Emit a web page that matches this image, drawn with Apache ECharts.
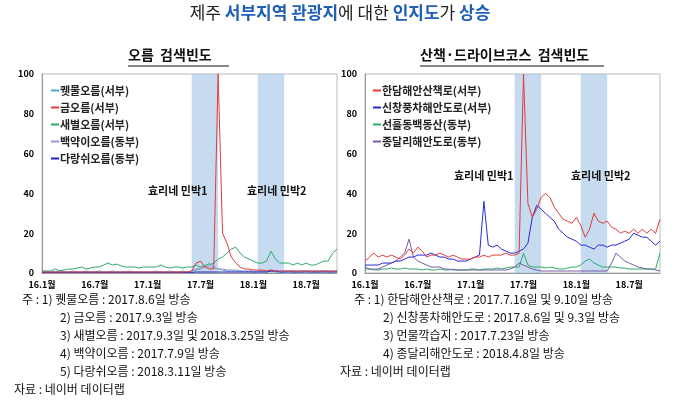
<!DOCTYPE html>
<html>
<head>
<meta charset="utf-8">
<script src="https://cdn.jsdelivr.net/npm/echarts@6/dist/echarts.min.js"></script>
<style>
html,body{margin:0;padding:0;background:#fff;}
#main{width:680px;height:406px;}
</style>
</head>
<body>
<div id="main"></div>
<script>
// 반월 단위 (16.1 ~ 18.10)
const months = [];
for (let y = 16; y <= 18; y++) {
  for (let m = 1; m <= 12; m++) {
    if (y === 18 && m > 10) break;
    months.push(y + '.' + m + '월', y + '.' + m + '월b');
  }
}

// 오름 검색빈도
const kwemul = [1,1,0.5,0.5,1,0.5,0.5,1,0.5,0.5,1,0.5,0.5,1,0.5,0.5,1,0.5,0.5,0.5,1,0.5,0.5,0.5,
  0.5,0.5,1,0.5,0.5,1,0.5,0.5,1,0.5,1,1.5,2,3,5,3,2,1.5,1,1,1,1,0.5,1,
  0.5,0.5,1,0.5,1,0.5,0.5,0.5,1,0.5,0.5,0.5,1,0.5,0.5,0.5,1,0.5,0.5,1];
const geum = [0.5,0.5,0.5,0.5,0.5,0.5,0.5,0.5,0.5,0.5,0.5,0.5,0.5,0.5,0.5,0.5,0.5,0.5,0.5,0.5,0.5,0.5,0.5,0.5,
  0.5,0.5,0.5,0.5,0.5,0.5,0.5,0.5,0.5,0.5,1,5,6,3,2,2,100,20,15,8,5,3,2,2,
  1.5,1.5,1.5,1,1.5,1,1,1,1,1,1,1,1,1,1,1,1,1,1,1];
const saebyeol = [1,1,1,2,1,1.5,2,2,2.5,3,2,2.5,3,3,4,5,4,4.5,3.5,3,3,3,2.5,3,
  3,3,3,4,3,2.5,3,3,2.5,3,3,4,3,4,4,5,7,8,10,12,13,10,8,7,
  6,5,5,6,11,7,5,5,5,4,5,4,5,4,4,5,6,6,10,12];
const baekyak = [0.5,0.5,0.5,0.5,0.5,0.5,0.5,0.5,0.5,0.5,0.5,0.5,0.5,0.5,0.5,0.5,0.5,0.5,0.5,0.5,0.5,0.5,0.5,0.5,
  0.5,0.5,0.5,0.5,0.5,0.5,0.5,0.5,0.5,0.5,1,2,2.5,3,3,2.5,2,2,1.5,1.5,1.5,1,1,1,
  1,1,1,1,1.5,1,1,1,1,1,1,1,1,1,1,1,1,1,1,1];
const darangswi = [0.3,0.3,0.3,0.3,0.3,0.3,0.3,0.3,0.3,0.3,0.3,0.3,0.3,0.3,0.3,0.3,0.3,0.3,0.3,0.3,0.3,0.3,0.3,0.3,
  0.3,0.3,0.3,0.3,0.3,0.3,0.3,0.3,0.3,0.3,0.3,0.5,0.5,0.5,0.5,0.5,0.5,0.5,0.5,0.5,0.5,0.5,0.5,0.5,
  0.5,0.5,0.5,0.5,1,1,0.5,0.5,0.5,0.5,0.5,0.5,0.5,0.5,0.5,0.5,0.5,0.5,0.5,0.5];

// 산책·드라이브코스 검색빈도
const handam = [6,8,10,8,9,8,9,8,7,9,12,10,13,11,8,9,9,10,9,8,9,8,7,7,
  7,8,8,9,8,9,9,9,10,9,9,10,100,35,28,32,38,40,38,33,30,27,26,25,
  28,24,18,22,30,26,25,26,23,22,20,21,20,22,20,22,20,22,20,27];
const sinchang = [4,4,4,4,5,5,5,6,6,7,8,8,9,9,9,10,9,8,8,7,7,6,6,6,
  7,8,9,36,14,13,14,12,11,10,10,11,12,15,28,34,32,30,28,26,22,20,18,17,
  16,14,14,13,12,14,14,13,14,14,15,16,17,20,19,18,18,16,14,16];
const seonheul = [2,2,1.5,1.5,2,2,2.5,2,2,2.5,2,2,2,1.5,2,1.5,1.5,2,1.5,1.5,2,1.5,1.5,1.5,
  2,2,1.5,2,2,2,2.5,2,2.5,3,3,3,10,4,3,3,3,2.5,3,2.5,2,2,2.5,3,
  3,4,6,7,5,4,3,3,3,3,2.5,2.5,2,2,2,2,2,2,2,10];
const jongdal = [3,2,2,2,3,4,5,6,8,10,17,8,6,5,4,3,3,3,2,2,1.5,1.5,1.5,1.5,
  1.5,1.5,1.5,1.5,1.5,1.5,1.5,1.5,1.5,2,3,5,4,3,2,1.5,1,1,1,1,1,1,1,1,
  1,1,1,1,1,1,1,1,5,10,8,6,5,4,3,2.5,2,2,1.5,1];

const bands = [[34, 40], [49, 55]];

const font = '"Noto Sans CJK KR", sans-serif';
const chart = echarts.init(document.getElementById('main'));

const grids = [
  { left: 42, right: 343, top: 74, bottom: 133 },
  { left: 365, right: 20, top: 74, bottom: 133 }
];

function axisX(i) {
  return {
    type: 'category', gridIndex: i, data: months, boundaryGap: false,
    axisLine: { lineStyle: { color: '#999' } }, axisTick: { show: false },
    axisLabel: { interval: 11, fontSize: 9, fontWeight: 'bold', color: '#000', margin: 7, fontFamily: font,
      formatter: v => v.replace('b', '') }
  };
}
function axisY(i) {
  return {
    type: 'value', gridIndex: i, min: 0, max: 100, interval: 20,
    axisLine: { show: true, lineStyle: { color: '#999' } }, axisTick: { show: false },
    splitLine: { show: false },
    axisLabel: { fontSize: 9, fontWeight: 'bold', color: '#000', fontFamily: font }
  };
}
function line(name, data, color, i, withBands) {
  const s = {
    name, type: 'line', data, xAxisIndex: i, yAxisIndex: i, showSymbol: false,
    lineStyle: { width: 1, color }, itemStyle: { color }
  };
  if (withBands) {
    s.markArea = {
      silent: true, itemStyle: { color: 'rgba(160,195,228,0.6)' },
      data: bands.map(b => [{ xAxis: b[0] }, { xAxis: b[1] }])
    };
  }
  return s;
}
function legend(i, names, left) {
  return {
    data: names, orient: 'vertical', left, top: 80, itemGap: 6,
    icon: 'rect', itemWidth: 8, itemHeight: 2,
    textStyle: { fontSize: 11, fontWeight: 'bold', color: '#222', fontFamily: font, padding: [0, 0, 0, -4] }
  };
}
function txt(x, y, text, extra) {
  return { type: 'text', z: 100, left: x, top: y, style: Object.assign({ text, fontSize: 12, fill: '#111', fontFamily: font }, extra || {}) };
}

const leftNames = ['퀫물오름(서부)', '금오름(서부)', '새별오름(서부)', '백약이오름(동부)', '다랑쉬오름(동부)'];
const rightNames = ['한담해안산책로(서부)', '신창풍차해안도로(서부)', '선흘동백동산(동부)', '종달리해안도로(동부)'];

chart.setOption({
  animation: false,
  grid: grids.map(g => Object.assign({ show: true, borderColor: '#bbb', borderWidth: 1 }, g)),
  xAxis: [axisX(0), axisX(1)],
  yAxis: [axisY(0), axisY(1)],
  legend: [legend(0, leftNames, 46), legend(1, rightNames, 368)],
  series: [
    line(leftNames[2], saebyeol, '#2eaa6a', 0, true),
    line(leftNames[0], kwemul, '#4bacc6', 0),
    line(leftNames[3], baekyak, '#a58fd0', 0),
    line(leftNames[4], darangswi, '#2323c8', 0),
    line(leftNames[1], geum, '#e03c3c', 0),
    line(rightNames[2], seonheul, '#2eaa6a', 1, true),
    line(rightNames[3], jongdal, '#7a5aa8', 1),
    line(rightNames[1], sinchang, '#2828d0', 1),
    line(rightNames[0], handam, '#e03c3c', 1)
  ],
  graphic: [
    { type: 'text', left: 'center', top: 4, style: {
      text: '{n|제주 }{b|서부지역 관광지}{n|에 대한 }{b|인지도}{n|가 }{b|상승}',
      fontFamily: font,
      rich: { n: { fontSize: 17, fill: '#222', fontFamily: font }, b: { fontSize: 17, fontWeight: 'bold', fill: '#1f5fb8', fontFamily: font } }
    } },
    txt(128, 48, '오름  검색빈도', { fontSize: 14, fontWeight: 'bold' }),
    { type: 'line', shape: { x1: 128, y1: 66, x2: 229, y2: 66 }, style: { stroke: '#111', lineWidth: 1 } },
    txt(420, 48, '산책·드라이브코스  검색빈도', { fontSize: 14, fontWeight: 'bold' }),
    { type: 'line', shape: { x1: 420, y1: 66, x2: 604, y2: 66 }, style: { stroke: '#111', lineWidth: 1 } },
    txt(148, 185, '효리네 민박1', { fontSize: 11, fontWeight: 'bold' }),
    txt(247, 185, '효리네 민박2', { fontSize: 11, fontWeight: 'bold' }),
    txt(454, 170, '효리네 민박1', { fontSize: 11, fontWeight: 'bold' }),
    txt(571, 170, '효리네 민박2', { fontSize: 11, fontWeight: 'bold' }),
    txt(22, 293, '주 : 1) 퀫물오름 : 2017.8.6일 방송'),
    txt(60, 311, '2) 금오름 : 2017.9.3일 방송'),
    txt(60, 329, '3) 새별오름 : 2017.9.3일 및 2018.3.25일 방송'),
    txt(60, 347, '4) 백약이오름 : 2017.7.9일 방송'),
    txt(60, 365, '5) 다랑쉬오름 : 2018.3.11일 방송'),
    txt(14, 383, '자료 : 네이버 데이터랩'),
    txt(354, 293, '주 : 1) 한담해안산책로 : 2017.7.16일 및 9.10일 방송'),
    txt(383, 311, '2) 신창풍차해안도로 : 2017.8.6일 및 9.3일 방송'),
    txt(383, 329, '3) 먼물깍습지 : 2017.7.23일 방송'),
    txt(383, 347, '4) 종달리해안도로 : 2018.4.8일 방송'),
    txt(340, 365, '자료 : 네이버 데이터랩')
  ]
});
</script>
</body>
</html>
